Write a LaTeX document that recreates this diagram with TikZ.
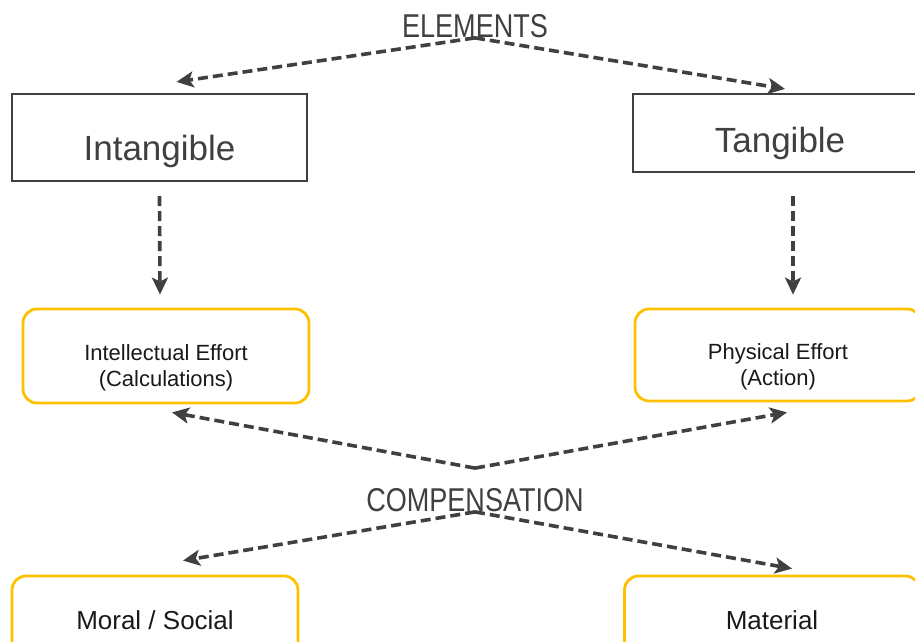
\documentclass[tikz,border=0pt]{standalone}
\usepackage{fontspec}
\setmainfont{Liberation Sans}
\newfontfamily\narrowfont[FakeStretch=0.82]{Liberation Sans}
\usetikzlibrary{arrows.meta,positioning}

\begin{document}
\begin{tikzpicture}[x=1pt,y=-1pt]
\definecolor{lineColour}{RGB}{64, 64, 64}
			\definecolor{boxColour}{RGB}{255, 192, 0}
			\tikzstyle{heading}=[inner sep=0pt, text=lineColour, font=\narrowfont\fontsize{33}{36}\selectfont]
			\tikzstyle{kind}=[rectangle, draw=lineColour, line width=2.2pt, minimum width=295pt, minimum height=87pt, text=lineColour, text depth=7pt, font=\fontsize{35}{40}\selectfont]
			\tikzstyle{effort}=[rectangle, rounded corners=14pt, draw=boxColour, line width=2.8pt, minimum width=286pt, minimum height=94pt, align=center, text=black!90, font=\fontsize{22}{26}\selectfont]
			\tikzstyle{reward}=[effort, minimum height=88pt, font=\fontsize{26}{30}\selectfont]
			\tikzstyle{link}=[draw=lineColour, line width=3.6pt, dash pattern=on 10pt off 5pt, -{Stealth[length=17pt,width=16pt,inset=4pt]}]

			\useasboundingbox (0,0) rectangle (915,642);

			\node [heading] (elements) at (475,26) {ELEMENTS};
			\node [kind, text height=53pt] (intangible) at (159.5,137.5) {Intangible};
			\node [kind, minimum width=294pt, minimum height=78pt, text height=46pt] (tangible) at (780,133) {Tangible};

			\node [effort, text height=64pt, text depth=4pt] (intellectual) at (166,356) {Intellectual Effort\\(Calculations)};
			\node [effort, minimum height=92pt, text height=64pt, text depth=4pt] (physical) at (778,355) {Physical Effort\\(Action)};

			\node [heading] (compensation) at (475,500) {COMPENSATION};
			\node [reward] (moral) at (155,620) {Moral / Social};
			\node [reward, minimum width=295pt] (material) at (772,620) {Material};

			\path
			(elements.south) edge[link] ([xshift=17pt,yshift=11pt]intangible.north)
			(elements.south) edge[link] ([xshift=5pt,yshift=4pt]tangible.north)
			([yshift=-14pt]intangible.south) edge[link] ([xshift=-6pt,yshift=13pt]intellectual.north)
			([xshift=13pt,yshift=-23pt]tangible.south) edge[link] ([xshift=15pt,yshift=13pt]physical.north)
			([yshift=20pt]compensation.north) edge[link] ([xshift=6pt,yshift=-8pt]intellectual.south)
			([yshift=20pt]compensation.north) edge[link] ([xshift=9pt,yshift=-10pt]physical.south)
			(compensation.south) edge[link] ([xshift=28pt,yshift=14pt]moral.north)
			(compensation.south) edge[link] ([xshift=20pt,yshift=6pt]material.north);
		\end{tikzpicture}
\end{document}
